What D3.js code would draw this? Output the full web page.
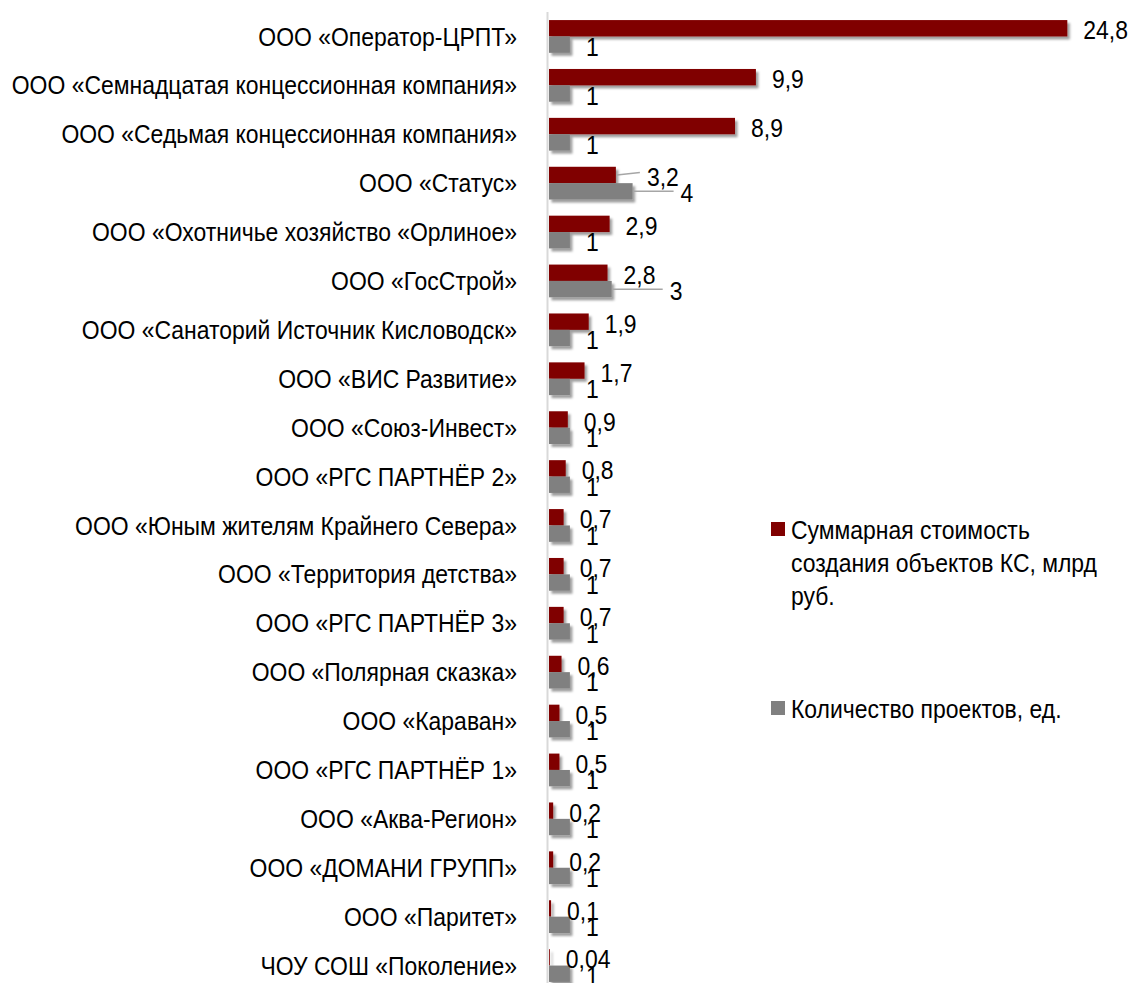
<!DOCTYPE html>
<html><head><meta charset="utf-8">
<script src="https://cdn.jsdelivr.net/npm/d3@7"></script>
<style>body{margin:0;background:#fff;} text{font-family:"Liberation Sans",Arial,sans-serif;fill:#000;}</style>
</head><body>
<svg id="c" width="1130" height="983"></svg>
<script>
// ---- data ----
const categories = [
  "ООО «Оператор-ЦРПТ»",
  "ООО «Семнадцатая концессионная компания»",
  "ООО «Седьмая концессионная компания»",
  "ООО «Статус»",
  "ООО «Охотничье хозяйство «Орлиное»",
  "ООО «ГосСтрой»",
  "ООО «Санаторий Источник Кисловодск»",
  "ООО «ВИС Развитие»",
  "ООО «Союз-Инвест»",
  "ООО «РГС ПАРТНЁР 2»",
  "ООО «Юным жителям Крайнего Севера»",
  "ООО «Территория детства»",
  "ООО «РГС ПАРТНЁР 3»",
  "ООО «Полярная сказка»",
  "ООО «Караван»",
  "ООО «РГС ПАРТНЁР 1»",
  "ООО «Аква-Регион»",
  "ООО «ДОМАНИ ГРУПП»",
  "ООО «Паритет»",
  "ЧОУ СОШ «Поколение»"
];
const costValues = [24.8, 9.9, 8.9, 3.2, 2.9, 2.8, 1.9, 1.7, 0.9, 0.8, 0.7, 0.7, 0.7, 0.6, 0.5, 0.5, 0.2, 0.2, 0.1, 0.04];
const projectCounts = [1, 1, 1, 4, 1, 3, 1, 1, 1, 1, 1, 1, 1, 1, 1, 1, 1, 1, 1, 1];
const seriesNames = ["Суммарная стоимость создания объектов КС, млрд руб.", "Количество проектов, ед."];
const legendLines = [["Суммарная стоимость", "создания объектов КС, млрд", "руб."], ["Количество проектов, ед."]];

// ---- layout / style ----
const COLORS = ["#800000", "#808080"];
const FS = 25.5, SX = 0.9;
// manually moved labels (extra x offset in px) with leader lines
const costLabelShift = {3: 15};
const countLabelShift = {3: 32, 5: 42};

const svg = d3.select("#c");
const defs = svg.append("defs");
const f = defs.append("filter").attr("id", "sh").attr("x", "-10%").attr("y", "-30%").attr("width", "130%").attr("height", "180%");
f.append("feDropShadow").attr("dx", 2.5).attr("dy", 3).attr("stdDeviation", 1.3)
  .attr("flood-color", "#000").attr("flood-opacity", 0.38);

const x = d3.scaleLinear().domain([0, 25]).range([549, 549 + 25 * 20.9]);
const y = d3.scaleBand().domain(categories).range([12, 12 + 20 * 48.9]).paddingInner(0.33).paddingOuter(0.165);
const sub = d3.scaleBand().domain([0, 1]).range([0, y.bandwidth()]).padding(0);

function fmt(v) { return String(v).replace(".", ","); }
function txt(g, px, py, s, anchor) {
  return g.append("text")
    .attr("transform", `translate(${px},${py}) scale(${SX},1)`)
    .attr("dy", "0.355em")
    .attr("text-anchor", anchor || "start")
    .style("font-size", FS + "px")
    .text(s);
}

// axis line
svg.append("line").attr("x1", 547.5).attr("x2", 547.5).attr("y1", 12).attr("y2", 983)
  .attr("stroke", "#d9d9d9").attr("stroke-width", 2);

// category labels
const gl = svg.append("g");
categories.forEach(c => txt(gl, 517, y(c) + y.bandwidth() / 2, c, "end"));

// bars
const gb = svg.append("g").attr("filter", "url(#sh)");
const series = [costValues, projectCounts];
series.forEach((vals, si) => {
  gb.selectAll(null).data(categories).enter().append("rect")
    .attr("x", x(0))
    .attr("y", c => y(c) + sub(si))
    .attr("width", (c, i) => Math.max(0, x(vals[i]) - x(0)))
    .attr("height", sub.bandwidth())
    .attr("fill", COLORS[si]);
});

// data labels
const gv = svg.append("g");
series.forEach((vals, si) => {
  const shifts = si === 0 ? costLabelShift : countLabelShift;
  categories.forEach((c, i) => {
    const end = x(vals[i]);
    const cy = y(c) + sub(si) + sub.bandwidth() / 2;
    const extra = shifts[i] || 0;
    const lx = end + 16 + extra;
    if (extra) {
      const ly = si === 0 ? cy - 2.5 : cy;
      gv.append("path")
        .attr("d", `M${end + 1},${cy}L${lx - 7},${ly}`)
        .attr("stroke", "#a6a6a6").attr("stroke-width", 1.5).attr("fill", "none");
    }
    txt(gv, lx, cy + 2, fmt(vals[i]));
  });
});

// legend
const lg = svg.append("g");
const legendY = [530, 709];
legendLines.forEach((lines, si) => {
  lg.append("rect").attr("x", 771).attr("y", legendY[si] - 8).attr("width", 14).attr("height", 14).attr("fill", COLORS[si]);
  lines.forEach((ln, k) => txt(lg, 791, legendY[si] + k * 33, ln));
});
</script>
</body></html>
